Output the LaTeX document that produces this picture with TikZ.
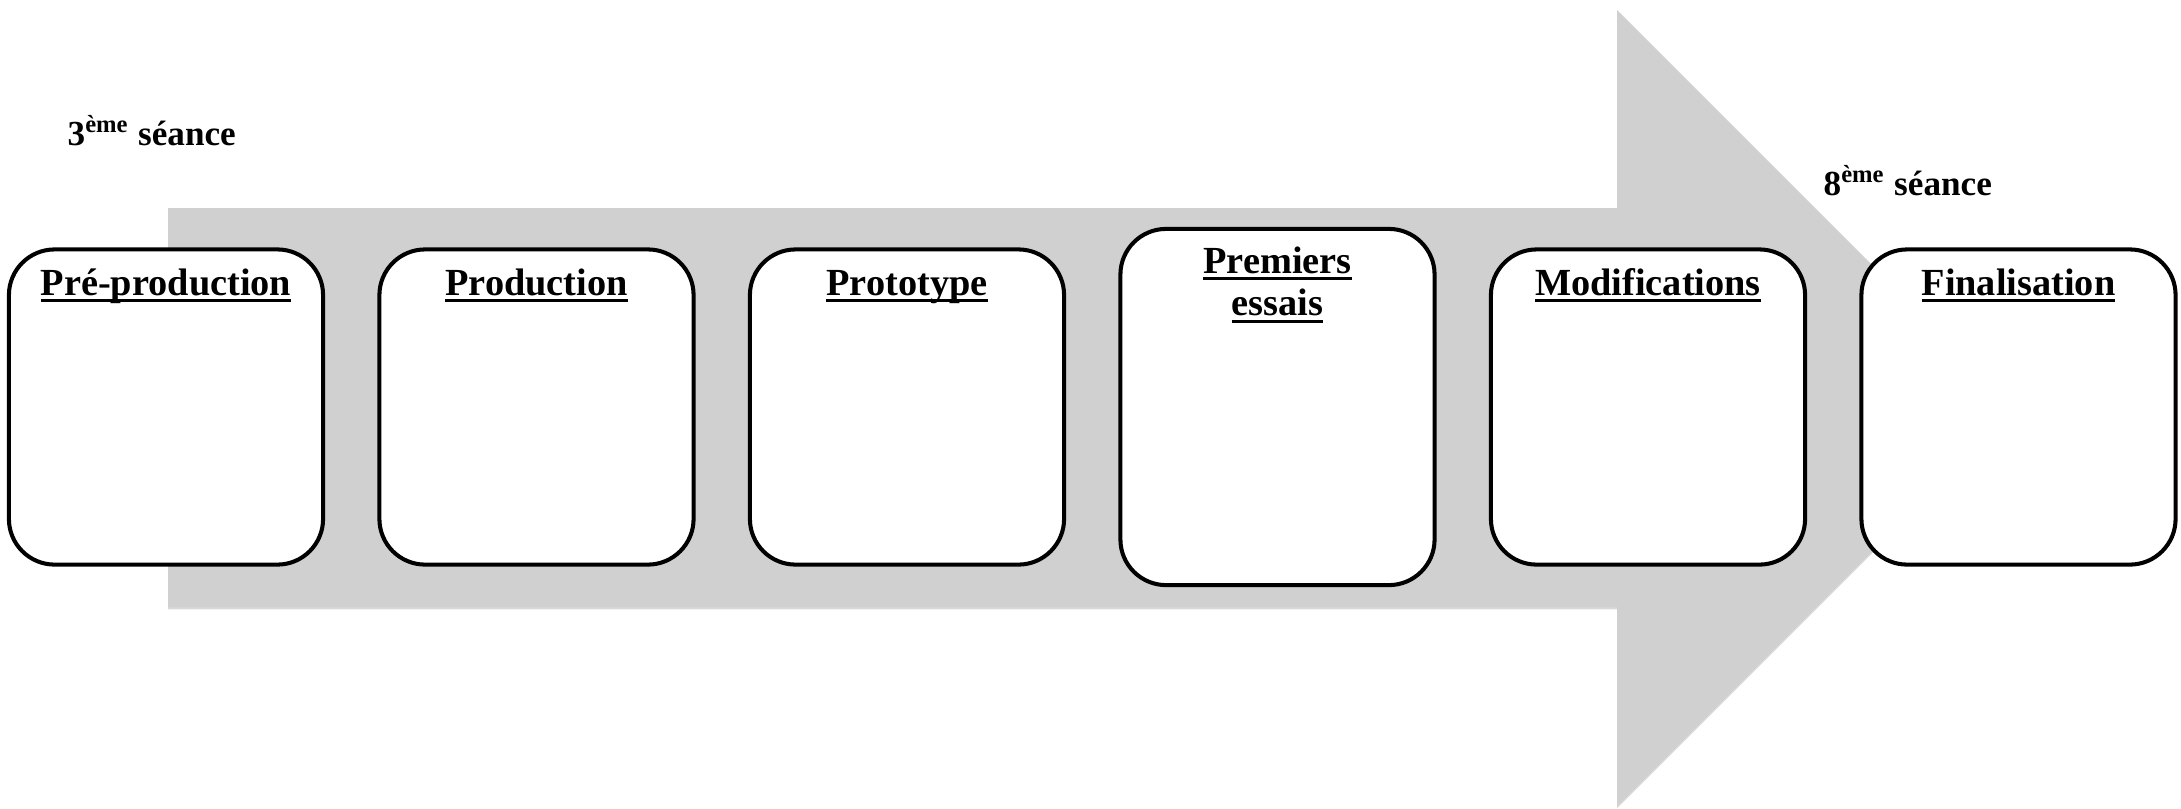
\documentclass[tikz,border=0pt]{standalone}
\usepackage{fontspec}
\setmainfont{Liberation Serif}
\usetikzlibrary{shadows}
\definecolor{flechegris}{RGB}{208,208,208}
\newcommand{\souligne}[1]{\setbox0\hbox{#1}\rlap{\rule[-1.9pt]{\wd0}{0.8pt}}\box0}
\tikzset{
  etape/.style={draw, line width=1.15pt, rounded corners=13pt, fill=white, minimum width=3.14cm, minimum height=3.15cm, inner sep=0pt},
  titre/.style={font=\fontsize{10.9}{12.2}\selectfont\bfseries, anchor=base, align=center, inner sep=0pt},
  seance/.style={font=\fontsize{10}{12}\selectfont\bfseries, anchor=base west, inner sep=0pt}
}
\begin{document}
\begin{tikzpicture}[x=0.01cm, y=-0.01cm]
\useasboundingbox (0,0) rectangle (2181,808);
\fill[flechegris, drop shadow={shadow xshift=0pt, shadow yshift=-0.7pt, opacity=0.3}] (168,208) -- (1617,208) -- (1617,10) -- (2015,408) -- (1617,806) -- (1617,607) -- (168,607) -- cycle;

\path (166,407) node[etape](preprod){} (536.5,407) node[etape](prod){} (907,407) node[etape](proto){} (1277.5,407) node[etape, minimum height=3.56cm](essais){} (1648,407) node[etape](modif){} (2018.5,407) node[etape](final){};

\node[titre] (tpreprod) at ([yshift=-0.48cm]preprod.north) {\souligne{Pré-production}};
\node[titre] (tprod) at ([yshift=-0.48cm]prod.north) {\souligne{Production}};
\node[titre] (tproto) at ([yshift=-0.48cm]proto.north) {\souligne{Prototype}};
\node[titre] (tessais) at ([yshift=-0.89cm]essais.north) {\souligne{Premiers}\\\souligne{essais}};
\node[titre] (tmodif) at ([yshift=-0.48cm]modif.north) {\souligne{Modifications}};
\node[titre] (tfinal) at ([yshift=-0.48cm]final.north) {\souligne{Finalisation}};

\node[seance] (debut) at (67,145) {3\textsuperscript{ème} séance};
\node[seance] (fin) at (1823,195) {8\textsuperscript{ème} séance};
\end{tikzpicture}
\end{document}
